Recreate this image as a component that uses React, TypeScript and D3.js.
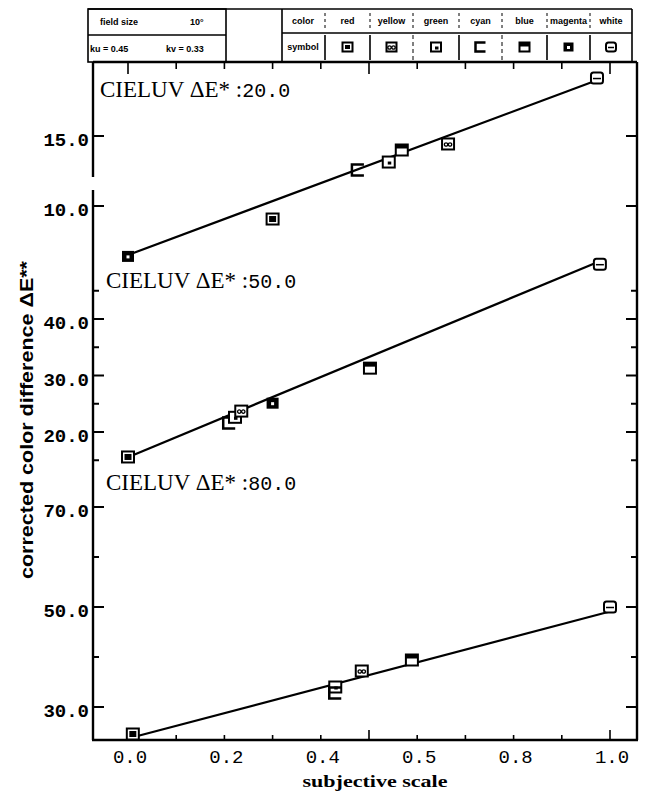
import { useMemo } from 'react';
import * as d3 from 'd3';

const W = 651;
const H = 794;

// CIELUV dE* = 20.0
const scale20 = [0.0, 0.3, 0.477, 0.541, 0.568, 0.664, 0.973];
const diff20 = [6.4, 9.07, 12.57, 13.14, 14.0, 14.43, 19.14];
const colors20 = ['magenta', 'red', 'cyan', 'green', 'blue', 'yellow', 'white'];
const fit20 = [[0, 6.5], [0.97, 18.95]];

// CIELUV dE* = 50.0
const scale50 = [0.0, 0.21, 0.222, 0.235, 0.3, 0.502, 0.979];
const diff50 = [15.58, 21.6, 22.6, 23.7, 25.1, 31.3, 49.7];
const colors50 = ['red', 'cyan', 'green', 'yellow', 'magenta', 'blue', 'white'];
const fit50 = [[0, 15.55], [0.975, 50.1]];

// CIELUV dE* = 80.0
const scale80 = [0.01, 0.43, 0.43, 0.485, 0.589, 1.0];
const diff80 = [24.6, 34.0, 32.8, 37.2, 39.4, 50.0];
const colors80 = ['red', 'green', 'cyan', 'yellow', 'blue', 'white'];
const fit80 = [[0, 23.7], [0.996, 49.0]];

const levels = ['20.0', '50.0', '80.0'];
const major20 = [10, 15];
const minor20: number[] = [];
const major50 = [20, 30, 40];
const minor50 = [15, 25, 35, 45];
const major80 = [30, 50, 70];
const minor80 = [40, 60];

const xLabelValues = [0, 0.2, 0.4, 0.6, 0.8, 1.0];
const xTickLabels = ['0.0', '0.2', '0.4', '0.5', '0.8', '1.0'];

const colorNames = ['red', 'yellow', 'green', 'cyan', 'blue', 'magenta', 'white'];

const frame = { left: 93, right: 637, top: 62, bottom: 740 };

const Marker = ({ kind, x, y, s = 12 }: { kind: string; x: number; y: number; s?: number }) => {
  const h = s / 2;
  const box = (
    <rect x={-h} y={-h + 0.5} width={s} height={s - 1} fill="white" stroke="black" strokeWidth={2} />
  );
  let inner = null;
  if (kind === 'red') {
    inner = <>{box}<rect x={-h + 2.5} y={-h + 3} width={s - 5} height={s - 6} fill="black" /></>;
  } else if (kind === 'yellow') {
    inner = <>{box}<circle cx={-2} cy={0.5} r={1.7} fill="none" stroke="black" strokeWidth={1.3} /><circle cx={2} cy={0.5} r={1.7} fill="none" stroke="black" strokeWidth={1.3} /></>;
  } else if (kind === 'green') {
    inner = <>{box}<rect x={-1} y={-0.5} width={3.5} height={3} fill="black" /></>;
  } else if (kind === 'cyan') {
    inner = <path d={`M${h},${-h + 0.5}H${-h}V${h - 0.5}H${h}`} fill="none" stroke="black" strokeWidth={2.5} />;
  } else if (kind === 'blue') {
    inner = <>{box}<rect x={-h} y={-h + 0.5} width={s} height={4} fill="black" /></>;
  } else if (kind === 'magenta') {
    inner = <><rect x={-h} y={-h + 0.5} width={s} height={s - 1} fill="black" /><rect x={-1.5} y={-1} width={3} height={3} fill="white" /></>;
  } else {
    inner = <><rect x={-h} y={-h + 0.5} width={s} height={s - 1} rx={2.5} fill="white" stroke="black" strokeWidth={2} /><line x1={-h + 2} x2={h - 2} y1={0.5} y2={0.5} stroke="black" strokeWidth={1.5} /></>;
  }
  return <g transform={`translate(${x},${y})`}>{inner}</g>;
};

const App = () => {
  const x = useMemo(() => d3.scaleLinear().domain([0, 1]).range([128, 610]), []);

  const panels = useMemo(() => {
    const y20 = d3.scaleLinear().domain([10, 15]).range([206, 136]);
    const y50 = d3.scaleLinear().domain([20, 40]).range([432, 319]);
    const y80 = d3.scaleLinear().domain([30, 70]).range([707, 507]);
    return [
      { y: y20, xs: scale20, ys: diff20, cs: colors20, fit: fit20, major: major20, minor: minor20, labelY: 97 },
      { y: y50, xs: scale50, ys: diff50, cs: colors50, fit: fit50, major: major50, minor: minor50, labelY: 288 },
      { y: y80, xs: scale80, ys: diff80, cs: colors80, fit: fit80, major: major80, minor: minor80, labelY: 490 },
    ];
  }, []);

  const xMinor = x.ticks(10);
  const fmt = d3.format('.1f');

  // header table columns
  const colEdges = [282, 325, 370, 413, 459, 502, 547, 590, 632];

  return (
    <svg width={W} height={H} style={{ position: 'absolute', left: 0, top: 0, background: 'white' }}>
      <rect width={W} height={H} fill="white" />

      {/* header table */}
      <g stroke="black" strokeWidth={1.6} fill="none">
        <line x1={88} x2={632} y1={9} y2={9} />
        <rect x={88} y={9} width={138} height={53} />
        <line x1={88} x2={226} y1={35} y2={35} />
        <line x1={282} x2={282} y1={9} y2={62} />
        <line x1={632} x2={632} y1={9} y2={62} />
        <line x1={282} x2={632} y1={33} y2={33} />
        {colEdges.slice(1, -1).map((e, i) => (
          <g key={i}>
            <line x1={e} x2={e} y1={13} y2={30} strokeDasharray="3,3" strokeWidth={1} />
            <line x1={e} x2={e} y1={35} y2={60} strokeWidth={i === 2 || i === 4 ? 1 : 1.6} strokeDasharray={i === 2 || i === 4 ? '4,3' : undefined} />
          </g>
        ))}
      </g>
      <g fontFamily="Liberation Sans, Arial, sans-serif" fontWeight="bold" fontSize={9} fill="black">
        <text x={100} y={25}>field size</text>
        <text x={190} y={25}>10°</text>
        <text x={90} y={52}>ku = 0.45</text>
        <text x={166} y={52}>kv = 0.33</text>
        <text x={303} y={24} textAnchor="middle">color</text>
        <text x={303} y={50} textAnchor="middle">symbol</text>
        {colorNames.map((c, i) => (
          <text key={c} x={(colEdges[i + 1] + colEdges[i + 2]) / 2} y={24} textAnchor="middle">{c}</text>
        ))}
      </g>
      {colorNames.map((c, i) => (
        <Marker key={c} kind={c} x={(colEdges[i + 1] + colEdges[i + 2]) / 2} y={47} s={10} />
      ))}

      {/* frame */}
      <g stroke="black" strokeWidth={2.4} fill="none">
        <line x1={frame.left} x2={frame.right} y1={frame.top} y2={frame.top} />
        <line x1={frame.left - 1} x2={frame.right + 1} y1={frame.bottom} y2={frame.bottom} />
        <line x1={frame.right} x2={frame.right} y1={frame.top} y2={frame.bottom} />
        <line x1={frame.left} x2={frame.left} y1={frame.top} y2={177} />
        <line x1={frame.left} x2={frame.left} y1={190} y2={frame.bottom} />
      </g>

      {/* x ticks top and bottom */}
      <g stroke="black" strokeWidth={1.6}>
        {xMinor.map((t, i) => {
          const big = i % 5 === 0;
          return (
            <g key={i}>
              <line x1={x(t)} x2={x(t)} y1={frame.top} y2={frame.top + (big ? 12 : 7)} />
              <line x1={x(t)} x2={x(t)} y1={frame.bottom} y2={frame.bottom - (big ? 10 : 5)} />
            </g>
          );
        })}
      </g>
      <g fontFamily="Liberation Mono, DejaVu Sans Mono, monospace" fontSize={19} fill="black" textAnchor="middle">
        {xLabelValues.map((v, i) => (
          <text key={i} x={x(v) + 2} y={763}>{xTickLabels[i]}</text>
        ))}
      </g>
      <text x={375} y={787} textAnchor="middle" fontFamily="Liberation Serif, Times New Roman, serif" fontWeight="bold" fontSize={16} textLength={145} lengthAdjust="spacingAndGlyphs">subjective scale</text>

      <text transform="translate(33,420) rotate(-90)" textAnchor="middle" fontFamily="Liberation Sans, Arial, sans-serif" fontWeight="bold" fontSize={19} textLength={318} lengthAdjust="spacingAndGlyphs">corrected color difference ΔE**</text>

      {panels.map((p, pi) => {
        const line = d3.line<number[]>().x((d) => x(d[0])).y((d) => p.y(d[1]));
        return (
          <g key={pi}>
            <g stroke="black" strokeWidth={2}>
              {p.major.map((t) => (
                <g key={t}>
                  <line x1={frame.left} x2={frame.left + 11} y1={p.y(t)} y2={p.y(t)} />
                  <line x1={frame.right} x2={frame.right - 11} y1={p.y(t)} y2={p.y(t)} />
                </g>
              ))}
              {p.minor.map((t) => (
                <g key={t}>
                  <line x1={frame.left} x2={frame.left + 6} y1={p.y(t)} y2={p.y(t)} />
                  <line x1={frame.right} x2={frame.right - 6} y1={p.y(t)} y2={p.y(t)} />
                </g>
              ))}
            </g>
            <g fontFamily="Liberation Mono, DejaVu Sans Mono, monospace" fontWeight="bold" fontSize={19} fill="black" textAnchor="end">
              {p.major.map((t) => (
                <text key={t} x={89} y={p.y(t) + 10}>{fmt(t)}</text>
              ))}
            </g>
            <text x={pi === 0 ? 100 : 106} y={p.labelY} fontFamily="Liberation Serif, Times New Roman, serif" fontSize={23} fill="black">
              CIELUV ΔE* :<tspan fontFamily="Liberation Mono, monospace" fontSize={20}>{levels[pi]}</tspan>
            </text>
            <path d={line(p.fit) || ''} fill="none" stroke="black" strokeWidth={2.2} />
            {p.xs.map((v, i) => (
              <Marker key={i} kind={p.cs[i]} x={x(v)} y={p.y(p.ys[i])} />
            ))}
          </g>
        );
      })}
    </svg>
  );
};

export default App;
